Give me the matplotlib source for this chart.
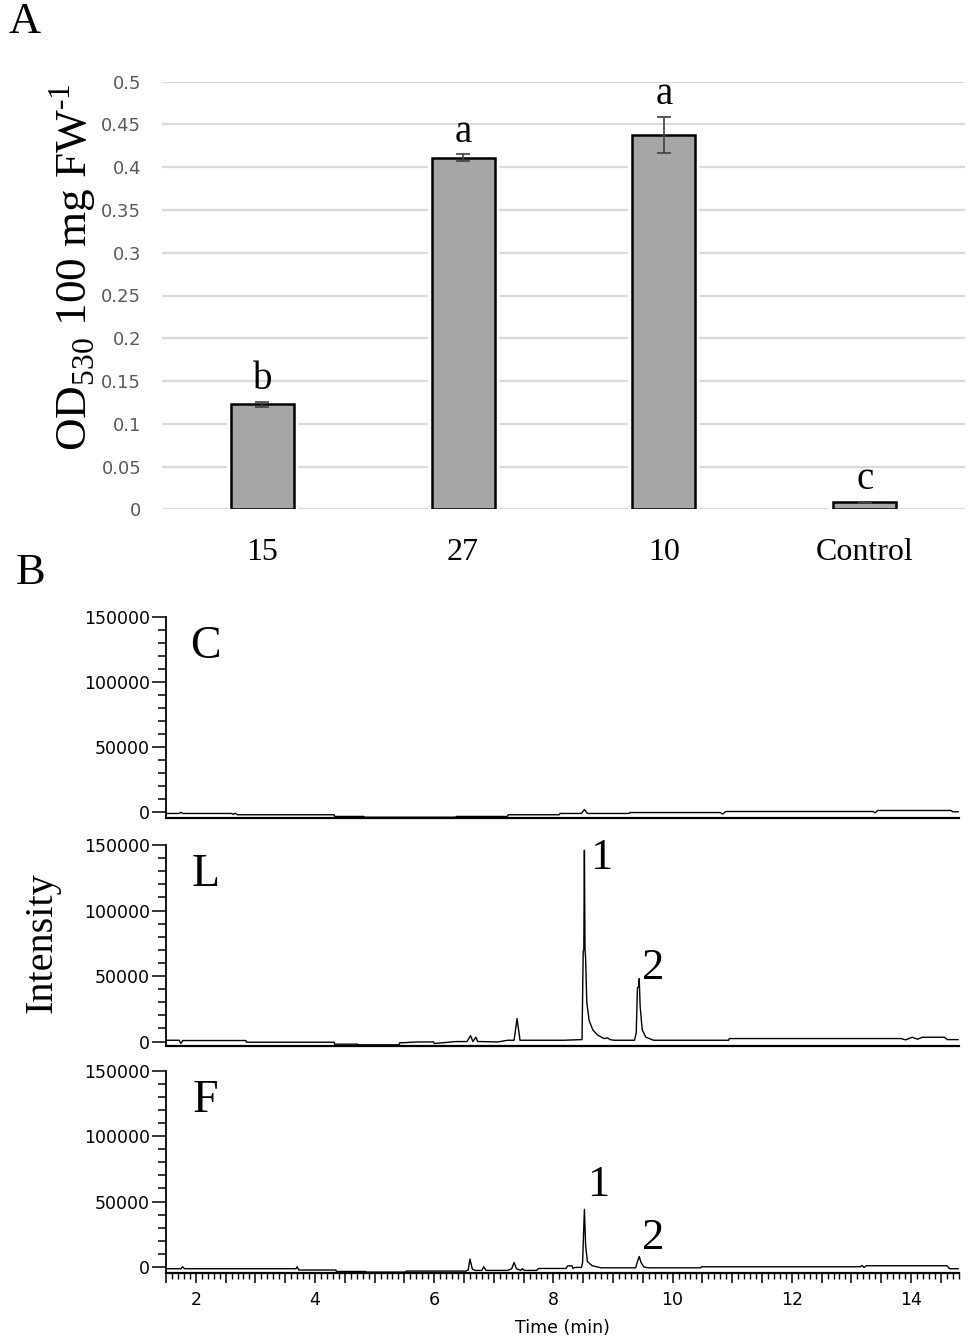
import matplotlib
matplotlib.use("Agg")
import matplotlib.pyplot as plt
from matplotlib.ticker import MultipleLocator, FuncFormatter

plt.rcParams['mathtext.fontset'] = 'custom'
plt.rcParams['mathtext.rm'] = 'Liberation Serif'
plt.rcParams['font.family'] = ['DejaVu Sans']
SERIF = 'Liberation Serif'

# panel A: anthocyanin content
groups = ['15', '27', '10', 'Control']
od_mean = [0.123, 0.411, 0.438, 0.008]
od_err = [0.003, 0.004, 0.021, 0.001]
letters = ['b', 'a', 'a', 'c']

# panel B: chromatograms (time in min, intensity)
c_time = [1.51, 1.72, 1.75, 1.78, 2.60, 2.63, 2.66, 2.70, 4.32, 4.33, 4.82, 4.83,
          6.36, 6.37, 7.23, 7.24, 8.10, 8.11, 8.47, 8.52, 8.57, 9.27, 9.28, 10.80,
          10.84, 10.89, 13.36, 13.40, 13.44, 13.78, 14.67, 14.70, 14.79]
c_int = [-1500, -1500, -600, -1500, -1500, -2200, -1300, -2500, -2500, -3800, -3800, -4400,
         -4400, -3800, -3800, -2500, -2500, -1500, -1500, 1500, -1500, -1500, -800, -800,
         -2000, 0, 0, -1000, 800, 800, 800, -200, -200]

l_time = [1.51, 1.72, 1.75, 1.78, 2.84, 2.85, 4.32, 4.33, 4.72, 4.73, 5.41, 5.42,
          5.72, 5.99, 6.00, 6.36, 6.55, 6.61, 6.65, 6.70, 6.73, 6.77, 7.07, 7.23,
          7.34, 7.39, 7.44, 7.50, 8.17, 8.48, 8.50, 8.51, 8.52, 8.53, 8.54, 8.56,
          8.60, 8.66, 8.74, 8.85, 8.91, 8.95, 9.02, 9.36, 9.39, 9.41, 9.43, 9.44,
          9.455, 9.49, 9.55, 9.68, 10.94, 10.95, 13.83, 13.91, 14.02, 14.11, 14.19,
          14.56, 14.61, 14.79]
l_int = [1000, 1000, -1500, 800, 800, -500, -500, -2000, -2000, -2500, -2500, -1000,
         -300, -300, -1500, 0, 0, 4500, 0, 3300, 0, 0, -300, 1000,
         1000, 17500, 1000, 1000, 1000, 1500, 69000, 70000, 146000, 70000, 64000, 30000,
         16000, 9000, 5000, 2300, 2800, 1500, 1000, 1000, 6800, 41000, 42000, 48000,
         27000, 9000, 3400, 1000, 1000, 2300, 2300, 1300, 3300, 1800, 3300,
         3300, 1500, 1500]

f_time = [1.51, 1.75, 1.78, 1.81, 3.68, 3.70, 3.73, 4.35, 4.36, 4.85, 4.86, 5.52,
          5.53, 6.53, 6.57, 6.60, 6.64, 6.69, 6.80, 6.83, 6.87, 7.23, 7.30, 7.34,
          7.38, 7.45, 7.48, 7.51, 7.72, 7.75, 7.80, 8.21, 8.24, 8.31, 8.33, 8.36,
          8.47, 8.49, 8.50, 8.52, 8.54, 8.57, 8.65, 8.80, 9.38, 9.41, 9.44, 9.47,
          9.52, 9.60, 10.47, 10.48, 13.15, 13.18, 13.21, 13.25, 14.60, 14.65, 14.79]
f_int = [-1500, -1500, 0, -1500, -1500, 0, -2500, -2500, -3600, -3600, -4100, -4100,
         -3300, -3300, -2500, 5900, -1800, -2800, -2800, 0, -2800, -2800, -1500, 3300,
         -1500, -2800, -1500, -2800, -2800, -1300, -1300, -1300, 700, 700, -1300, -500,
         -500, 3300, 17400, 44000, 16500, 4000, 800, -800, -800, 4000, 7900, 3300,
         -250, -800, -800, 0, 0, 1000, -500, 800, 800, -1500, -1500]

W, H = 968, 1340


def box(l, t, r, b):
    return [l / W, 1 - b / H, (r - l) / W, (b - t) / H]


fig = plt.figure(figsize=(W / 100, H / 100), dpi=100)

# ---------- panel A ----------
axA = fig.add_axes(box(162, 81.7, 965, 509.3))
xs = list(range(len(groups)))
axA.set_xlim(-0.5, 3.5)
axA.set_ylim(0, 0.5)
axA.grid(axis='y', color='#d9d9d9', lw=1.6, zorder=0)
axA.set_axisbelow(True)
for s in axA.spines.values():
    s.set_visible(False)
axA.bar(xs, od_mean, width=0.315, color='#a6a6a6', edgecolor='white', lw=6, zorder=2)
axA.bar(xs, od_mean, width=0.315, color='#a6a6a6', edgecolor='black', lw=1.8, zorder=3)
axA.errorbar(xs, od_mean, yerr=od_err, fmt='none', ecolor='#404040', elinewidth=1.2,
             capsize=5, capthick=1.2, zorder=4)
for x, m, e, t in zip(xs, od_mean, od_err, letters):
    axA.text(x, m + e + 0.015, t, ha='center', va='baseline', fontsize=28, family=SERIF)
axA.set_xticks(xs)
axA.set_xticklabels(groups, family=SERIF, fontsize=23)
axA.tick_params(axis='x', length=0, pad=21)
axA.set_yticks([i * 0.05 for i in range(11)])
axA.set_yticklabels(['0', '0.05', '0.1', '0.15', '0.2', '0.25', '0.3', '0.35', '0.4', '0.45', '0.5'])
axA.tick_params(axis='y', length=0, pad=15, labelsize=13, labelcolor='#595959')

fig.text(73 / W, 1 - 267 / H, 'OD$_{\\mathregular{530}}$ 100 mg FW$^{\\mathregular{\u20101}}$',
         rotation=90, ha='center', va='center', fontsize=32.5, family=SERIF)
fig.text(25 / W, 1 - 22 / H, 'A', ha='center', va='center', fontsize=32, family=SERIF)
fig.text(31 / W, 1 - 573 / H, 'B', ha='center', va='center', fontsize=32, family=SERIF)

# ---------- panel B ----------
axC = fig.add_axes(box(166, 617, 958.7, 818))
axL = fig.add_axes(box(166, 845, 958.7, 1045.5))
axF = fig.add_axes(box(166, 1071, 958.7, 1273.3))

traces = [(axC, c_time, c_int, 'C', -5000), (axL, l_time, l_int, 'L', -3000),
          (axF, f_time, f_int, 'F', -5000)]
for ax, t, y, lab, ymin in traces:
    ax.plot(t, y, color='black', lw=1.0)
    ax.set_xlim(1.5, 14.8)
    ax.set_ylim(ymin, 150000)
    ax.spines['top'].set_visible(False)
    ax.spines['right'].set_visible(False)
    ax.spines['left'].set_linewidth(1.3)
    ax.spines['bottom'].set_linewidth(1.6)
    ax.yaxis.set_major_locator(MultipleLocator(50000))
    ax.yaxis.set_minor_locator(MultipleLocator(10000))
    ax.tick_params(axis='y', which='major', length=10, width=1.1, pad=1.5, labelsize=12.5)
    ax.tick_params(axis='y', which='minor', length=6, width=1.1)
    ax.text(2.16, 127000, lab, ha='center', va='center', fontsize=33, family=SERIF)
    if ax is not axF:
        ax.set_xticks([])

axF.xaxis.set_major_locator(MultipleLocator(0.5))
axF.xaxis.set_minor_locator(MultipleLocator(0.1))
axF.xaxis.set_major_formatter(FuncFormatter(
    lambda v, p: '%d' % round(v) if abs(v - round(v)) < 1e-6 and round(v) % 2 == 0 else ''))
axF.tick_params(axis='x', which='major', length=7, width=1.1, pad=6, labelsize=12.5)
axF.tick_params(axis='x', which='minor', length=4, width=1.0)
axF.set_xlabel('Time (min)', fontsize=12.5, labelpad=7)

axL.text(8.80, 140000, '1', ha='center', va='center', fontsize=32, family=SERIF)
axL.text(9.67, 56000, '2', ha='center', va='center', fontsize=32, family=SERIF)
axF.text(8.75, 63000, '1', ha='center', va='center', fontsize=32, family=SERIF)
axF.text(9.68, 22000, '2', ha='center', va='center', fontsize=32, family=SERIF)

fig.text(42 / W, 1 - 943 / H, 'Intensity', rotation=90, ha='center', va='center',
         fontsize=29, family=SERIF)

fig.savefig('out.png', dpi=100)
